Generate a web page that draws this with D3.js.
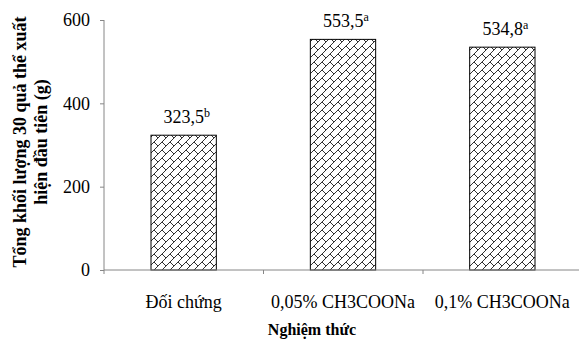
<!DOCTYPE html>
<html><head><meta charset="utf-8">
<script src="https://cdn.jsdelivr.net/npm/d3@7"></script>
<style>body{margin:0;background:#fff}svg{display:block}</style>
</head><body>
<script>
const categories = ["Đối chứng", "0,05% CH3COONa", "0,1% CH3COONa"];
const values = [323.5, 553.5, 534.8];
const valueLabels = ["323,5", "553,5", "534,8"];
const letters = ["b", "a", "a"];
const yTicks = [0, 200, 400, 600];
const yTitle = ["Tổng khối lượng 30 quả thể xuất", "hiện đầu tiên (g)"];
const xTitle = "Nghiệm thức";

const W = 579, H = 341;
const font = "'Liberation Serif','Times New Roman',serif";
const svg = d3.select("body").append("svg").attr("width", W).attr("height", H);

const defs = svg.append("defs");
const pat = defs.append("pattern").attr("id","brick").attr("patternUnits","userSpaceOnUse")
  .attr("width",8).attr("height",8);
pat.append("rect").attr("width",8).attr("height",8).attr("fill","#fff");
pat.append("path")
  .attr("d","M-1,9 L9,-1 M-1,1 L1,-1 M7,9 L9,7 M2,6 L4,8 M4,0 L6,2")
  .attr("stroke","#1a1a1a").attr("stroke-width",0.9).attr("fill","none");

const x = d3.scaleBand().domain(categories).range([104, 582]).paddingInner(0.59).paddingOuter(0.295);
const y = d3.scaleLinear().domain([0, 600]).range([270, 20]);

// bars
svg.append("g").selectAll("rect").data(values).join("rect")
  .attr("x", (d,i)=>x(categories[i]))
  .attr("y", d=>y(d))
  .attr("width", x.bandwidth())
  .attr("height", d=>y(0)-y(d))
  .attr("fill","url(#brick)")
  .attr("stroke","#000").attr("stroke-width",1);

// y axis
const yAxis = svg.append("g").attr("transform","translate(104,0)")
  .call(d3.axisLeft(y).tickValues(yTicks).tickSize(4).tickPadding(10).tickFormat(d3.format("d")));
yAxis.select(".domain").attr("stroke","#868686").attr("d","M0,20V274");
yAxis.selectAll(".tick line").attr("stroke","#868686");
yAxis.selectAll("text").attr("font-family",font).attr("font-size",18).attr("fill","#000");

// x axis
const bounds = [0,1,2,3].map(i=>104 + i*159.5);
const xg = svg.append("g");
xg.append("line").attr("x1",104).attr("x2",W).attr("y1",270).attr("y2",270).attr("stroke","#868686");
xg.selectAll("line.t").data(bounds.slice(1)).join("line").attr("class","t")
  .attr("x1",d=>d).attr("x2",d=>d).attr("y1",270).attr("y2",274).attr("stroke","#868686");
xg.selectAll("text").data(categories).join("text")
  .attr("x",d=>x(d)+x.bandwidth()/2).attr("y",308)
  .attr("text-anchor","middle").attr("font-family",font).attr("font-size",18).text(d=>d);

// value labels
const vl = svg.append("g").selectAll("text").data(values).join("text")
  .attr("x",(d,i)=>x(categories[i])+x.bandwidth()/2+3)
  .attr("y",d=>y(d)-12)
  .attr("text-anchor","middle").attr("font-family",font).attr("font-size",18);
vl.append("tspan").text((d,i)=>valueLabels[i]);
vl.append("tspan").attr("font-size",12).attr("dy",-6).text((d,i)=>letters[i]);

// y title
const yt = svg.append("text").attr("transform","translate(26,142) rotate(-90)")
  .attr("text-anchor","middle").attr("font-family",font).attr("font-size",18).attr("font-weight","bold");
yt.selectAll("tspan").data(yTitle).join("tspan").attr("x",0).attr("dy",(d,i)=>i?21:0).text(d=>d);

// x title
svg.append("text").attr("x",312).attr("y",335).attr("text-anchor","middle")
  .attr("font-family",font).attr("font-size",16).attr("font-weight","bold").text(xTitle);
</script>
</body></html>
